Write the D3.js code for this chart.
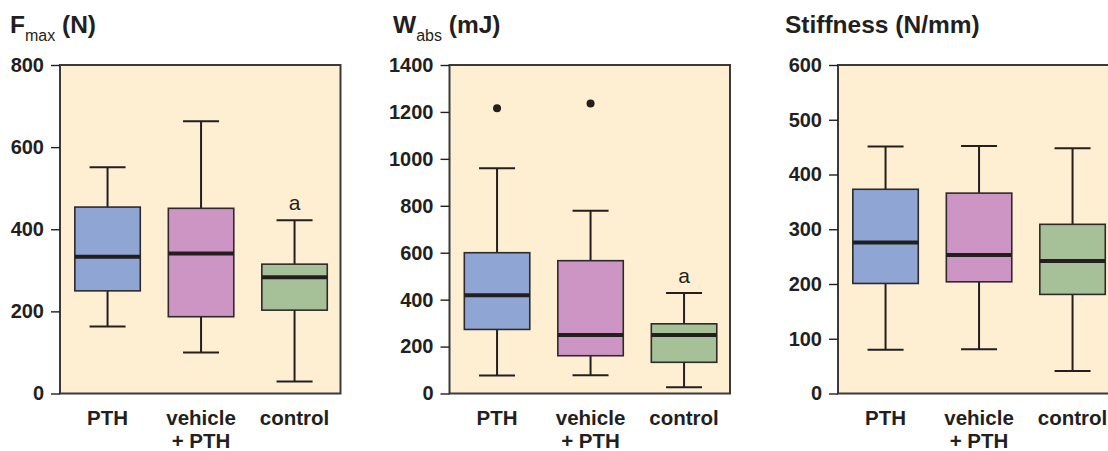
<!DOCTYPE html>
<html>
<head>
<meta charset="utf-8">
<script src="https://cdn.jsdelivr.net/npm/d3@7"></script>
<style>
  body { margin: 0; background: #fff; }
  text { font-family: "Liberation Sans", Arial, sans-serif; fill: #231f20; }
</style>
</head>
<body>
<svg id="chart"></svg>
<script>
// categories (multi-line labels)
const groups = [["PTH"], ["vehicle", "+ PTH"], ["control"]];
const colors = ["#8fa6d5", "#cd95c4", "#a6c197"];

// each row: [low whisker, q1, median, q3, high whisker]
const fmaxTicks = [0, 200, 400, 600, 800];
const fmaxStats = [[163, 250, 333, 454, 551], [100, 187, 341, 451, 663], [29, 203, 283, 315, 422]];
const fmaxOutliers = [[], [], []];
const fmaxLetters = ["", "", "a"];

const wabsTicks = [0, 200, 400, 600, 800, 1000, 1200, 1400];
const wabsStats = [[77, 273, 419, 600, 960], [78, 161, 249, 566, 779], [27, 133, 249, 297, 428]];
const wabsOutliers = [[1216], [1236], []];
const wabsLetters = ["", "", "a"];

const stiffTicks = [0, 100, 200, 300, 400, 500, 600];
const stiffStats = [[80, 201, 276, 373, 451], [81, 204, 253, 366, 452], [41, 181, 242, 309, 448]];
const stiffOutliers = [[], [], []];
const stiffLetters = ["", "", ""];

const W = 1108, H = 451;
const plotTop = 65, plotBottom = 393.5, plotW = 280.5;
const ink = "#231f20";

const panels = [
  {head: "F", sub: "max", unit: "(N)", titleX: 10, left: 60,
   ticks: fmaxTicks, stats: fmaxStats, outliers: fmaxOutliers, letters: fmaxLetters},
  {head: "W", sub: "abs", unit: "(mJ)", titleX: 393, left: 449.5,
   ticks: wabsTicks, stats: wabsStats, outliers: wabsOutliers, letters: wabsLetters},
  {head: "Stiffness (N/mm)", sub: null, unit: null, titleX: 785, left: 838,
   ticks: stiffTicks, stats: stiffStats, outliers: stiffOutliers, letters: stiffLetters}
];

const svg = d3.select("#chart").attr("width", W).attr("height", H);

panels.forEach(p => {
  const g = svg.append("g").attr("transform", "translate(" + p.left + ",0)");

  const x = d3.scaleBand().domain(d3.range(groups.length)).range([0, plotW]);
  const y = d3.scaleLinear().domain([0, d3.max(p.ticks)]).range([plotBottom, plotTop]);

  // title
  const t = svg.append("text")
    .attr("x", p.titleX).attr("y", 33)
    .attr("font-size", 24.5).attr("font-weight", "bold");
  t.append("tspan").text(p.head);
  if (p.sub) {
    t.append("tspan").attr("dy", 8).attr("font-size", 16).attr("font-weight", "normal").text(p.sub);
    t.append("tspan").attr("dy", -8).text(" " + p.unit);
  }

  // plot background + frame
  g.append("rect")
    .attr("x", 0).attr("y", plotTop)
    .attr("width", plotW).attr("height", plotBottom - plotTop)
    .attr("fill", "#feeed2")
    .attr("stroke", "#3a3a3a")
    .attr("stroke-width", 2);

  // y axis
  const ax = g.append("g")
    .call(d3.axisLeft(y).tickValues(p.ticks).tickFormat(d3.format("d")).tickSize(9).tickPadding(7));
  ax.select(".domain").remove();
  ax.attr("font-size", 20).attr("font-weight", "bold")
    .attr("font-family", "'Liberation Sans', Arial, sans-serif")
    .style("color", ink);
  ax.selectAll("line").attr("stroke-width", 1.4);

  const bw = x.bandwidth() * 0.7;
  const cw = x.bandwidth() * 0.385;

  p.stats.forEach((s, i) => {
    const c = x(i) + x.bandwidth() / 2 + 0.8;
    const [lo, q1, med, q3, hi] = s;
    const b = g.append("g");

    // whiskers
    b.append("line").attr("x1", c).attr("x2", c).attr("y1", y(lo)).attr("y2", y(q1))
      .attr("stroke", ink).attr("stroke-width", 2);
    b.append("line").attr("x1", c).attr("x2", c).attr("y1", y(q3)).attr("y2", y(hi))
      .attr("stroke", ink).attr("stroke-width", 2);
    b.append("line").attr("x1", c - cw / 2).attr("x2", c + cw / 2).attr("y1", y(lo)).attr("y2", y(lo))
      .attr("stroke", ink).attr("stroke-width", 2);
    b.append("line").attr("x1", c - cw / 2).attr("x2", c + cw / 2).attr("y1", y(hi)).attr("y2", y(hi))
      .attr("stroke", ink).attr("stroke-width", 2);

    // box
    b.append("rect")
      .attr("x", c - bw / 2).attr("y", y(q3))
      .attr("width", bw).attr("height", y(q1) - y(q3))
      .attr("fill", colors[i])
      .attr("stroke", "#2e2a2b").attr("stroke-width", 1.6);

    // median
    b.append("line").attr("x1", c - bw / 2).attr("x2", c + bw / 2).attr("y1", y(med)).attr("y2", y(med))
      .attr("stroke", ink).attr("stroke-width", 4);

    // outliers
    p.outliers[i].forEach(v => {
      b.append("circle").attr("cx", c).attr("cy", y(v)).attr("r", 4).attr("fill", ink);
    });

    // significance letter
    if (p.letters[i]) {
      b.append("text").attr("x", c).attr("y", y(hi) - 10)
        .attr("text-anchor", "middle").attr("font-size", 21)
        .text(p.letters[i]);
    }

    // category label
    const lab = g.append("text")
      .attr("x", c).attr("y", 425)
      .attr("text-anchor", "middle").attr("font-size", 20.5).attr("font-weight", "bold");
    groups[i].forEach((line, k) => {
      lab.append("tspan").attr("x", c).attr("dy", k === 0 ? 0 : 23).text(line);
    });
  });
});
</script>
</body>
</html>
